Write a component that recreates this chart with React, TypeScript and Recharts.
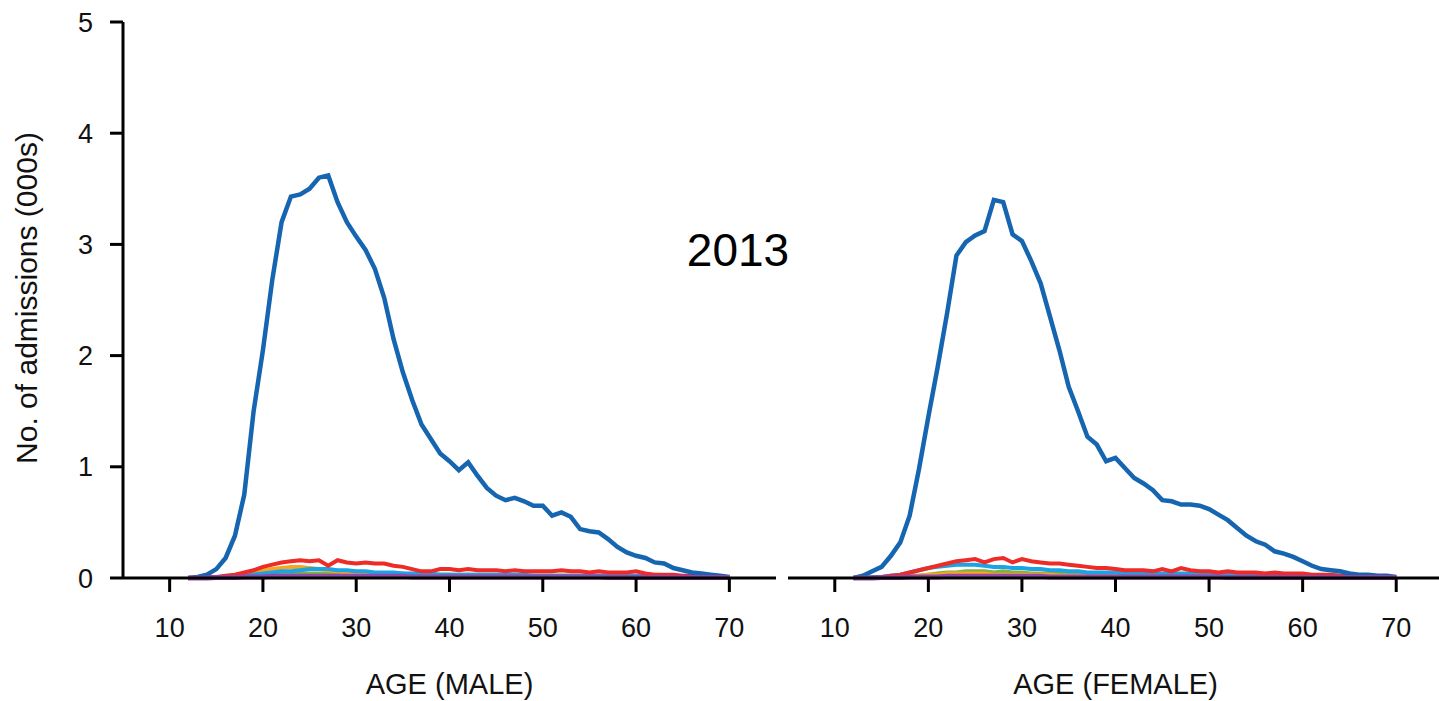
import { Line, LineChart, XAxis, YAxis } from "recharts"

const ages = [
  12, 13, 14, 15, 16, 17, 18, 19, 20, 21, 22, 23, 24, 25, 26, 27, 28, 29, 30, 31,
  32, 33, 34, 35, 36, 37, 38, 39, 40, 41, 42, 43, 44, 45, 46, 47, 48, 49, 50, 51,
  52, 53, 54, 55, 56, 57, 58, 59, 60, 61, 62, 63, 64, 65, 66, 67, 68, 69, 70,
]

const xTicks = [10, 20, 30, 40, 50, 60, 70]
const yTicks = [0, 1, 2, 3, 4, 5]

// male
const maleBlue = [
  0, 0.01, 0.03, 0.08, 0.18, 0.38, 0.75, 1.5, 2.05, 2.68, 3.2, 3.43, 3.45, 3.5, 3.6, 3.62, 3.38, 3.2, 3.07, 2.95,
  2.78, 2.52, 2.15, 1.85, 1.6, 1.38, 1.25, 1.12, 1.05, 0.97, 1.04, 0.92, 0.81, 0.74, 0.7, 0.72, 0.69, 0.65, 0.65, 0.56,
  0.59, 0.55, 0.44, 0.42, 0.41, 0.35, 0.28, 0.23, 0.2, 0.18, 0.14, 0.13, 0.09, 0.07, 0.05, 0.04, 0.03, 0.02, 0.01,
]
const maleRed = [
  0, 0, 0.01, 0.01, 0.02, 0.03, 0.05, 0.07, 0.1, 0.12, 0.14, 0.15, 0.16, 0.15, 0.16, 0.11, 0.16, 0.14, 0.13, 0.14,
  0.13, 0.13, 0.11, 0.1, 0.08, 0.06, 0.06, 0.08, 0.08, 0.07, 0.08, 0.07, 0.07, 0.07, 0.06, 0.07, 0.06, 0.06, 0.06, 0.06,
  0.07, 0.06, 0.06, 0.05, 0.06, 0.05, 0.05, 0.05, 0.06, 0.04, 0.03, 0.03, 0.03, 0.02, 0.02, 0.02, 0.01, 0.01, 0.01,
]
const maleOrange = [
  0, 0, 0, 0, 0.01, 0.02, 0.04, 0.05, 0.07, 0.08, 0.09, 0.1, 0.1, 0.09, 0.08, 0.07, 0.06, 0.05, 0.05, 0.04,
  0.04, 0.04, 0.04, 0.04, 0.03, 0.03, 0.03, 0.03, 0.03, 0.03, 0.03, 0.03, 0.03, 0.03, 0.02, 0.02, 0.02, 0.02, 0.02, 0.02,
  0.02, 0.02, 0.02, 0.02, 0.02, 0.02, 0.02, 0.01, 0.01, 0.01, 0.01, 0.01, 0.01, 0.01, 0.01, 0.01, 0.01, 0.01, 0.01,
]
const maleCyan = [
  0, 0, 0, 0, 0.01, 0.01, 0.02, 0.03, 0.04, 0.05, 0.06, 0.06, 0.07, 0.08, 0.08, 0.08, 0.07, 0.07, 0.06, 0.06,
  0.05, 0.05, 0.05, 0.04, 0.04, 0.04, 0.04, 0.03, 0.03, 0.03, 0.03, 0.03, 0.03, 0.03, 0.03, 0.03, 0.03, 0.02, 0.02, 0.02,
  0.02, 0.02, 0.02, 0.02, 0.02, 0.02, 0.02, 0.02, 0.02, 0.02, 0.01, 0.01, 0.01, 0.01, 0.01, 0.01, 0.01, 0.01, 0.01,
]
const maleGreen = [
  0, 0, 0, 0, 0, 0.01, 0.01, 0.02, 0.02, 0.03, 0.03, 0.03, 0.04, 0.04, 0.04, 0.04, 0.04, 0.03, 0.03, 0.03,
  0.03, 0.03, 0.03, 0.03, 0.03, 0.03, 0.02, 0.03, 0.03, 0.02, 0.03, 0.02, 0.02, 0.02, 0.02, 0.02, 0.02, 0.02, 0.02, 0.02,
  0.02, 0.02, 0.02, 0.02, 0.01, 0.01, 0.01, 0.01, 0.01, 0.01, 0.01, 0.01, 0.01, 0.01, 0.01, 0.01, 0.01, 0.01, 0.01,
]
const malePurple = [
  0, 0, 0, 0.005, 0.005, 0.005, 0.01, 0.01, 0.01, 0.015, 0.015, 0.015, 0.015, 0.015, 0.015, 0.015, 0.015, 0.015, 0.015, 0.015,
  0.015, 0.015, 0.015, 0.015, 0.01, 0.01, 0.01, 0.01, 0.01, 0.01, 0.01, 0.01, 0.01, 0.01, 0.01, 0.01, 0.01, 0.01, 0.01, 0.01,
  0.01, 0.01, 0.01, 0.01, 0.01, 0.005, 0.005, 0.005, 0.005, 0.005, 0.005, 0.005, 0.005, 0.005, 0.005, 0.005, 0.005, 0.005, 0.005,
]

// female
const femaleBlue = [
  0, 0.02, 0.06, 0.1, 0.2, 0.32, 0.56, 0.98, 1.45, 1.9, 2.38, 2.9, 3.02, 3.08, 3.12, 3.4, 3.38, 3.09, 3.03, 2.85,
  2.65, 2.35, 2.05, 1.72, 1.5, 1.27, 1.2, 1.05, 1.08, 0.99, 0.9, 0.85, 0.79, 0.7, 0.69, 0.66, 0.66, 0.65, 0.62, 0.57,
  0.52, 0.45, 0.38, 0.33, 0.3, 0.24, 0.22, 0.19, 0.15, 0.11, 0.08, 0.07, 0.06, 0.04, 0.03, 0.03, 0.02, 0.02, 0.01,
]
const femaleRed = [
  0, 0, 0, 0.01, 0.02, 0.03, 0.05, 0.07, 0.09, 0.11, 0.13, 0.15, 0.16, 0.17, 0.14, 0.17, 0.18, 0.14, 0.17, 0.15,
  0.14, 0.13, 0.13, 0.12, 0.11, 0.1, 0.09, 0.09, 0.08, 0.07, 0.07, 0.07, 0.06, 0.08, 0.06, 0.09, 0.07, 0.06, 0.06, 0.05,
  0.06, 0.05, 0.05, 0.05, 0.04, 0.05, 0.04, 0.04, 0.04, 0.03, 0.03, 0.03, 0.02, 0.02, 0.02, 0.02, 0.01, 0.01, 0.01,
]
const femaleOrange = [
  0, 0, 0, 0, 0.01, 0.01, 0.02, 0.02, 0.03, 0.03, 0.04, 0.04, 0.04, 0.04, 0.04, 0.03, 0.03, 0.03, 0.03, 0.03,
  0.03, 0.03, 0.02, 0.02, 0.02, 0.02, 0.02, 0.02, 0.02, 0.02, 0.02, 0.02, 0.02, 0.02, 0.02, 0.02, 0.02, 0.02, 0.01, 0.01,
  0.01, 0.01, 0.01, 0.01, 0.01, 0.01, 0.01, 0.01, 0.01, 0.01, 0.01, 0.01, 0.01, 0.01, 0.01, 0.01, 0.01, 0.01, 0.01,
]
const femaleCyan = [
  0, 0, 0.01, 0.01, 0.02, 0.03, 0.05, 0.07, 0.09, 0.1, 0.11, 0.12, 0.12, 0.12, 0.11, 0.1, 0.1, 0.09, 0.09, 0.08,
  0.08, 0.07, 0.07, 0.06, 0.06, 0.05, 0.05, 0.05, 0.05, 0.04, 0.04, 0.04, 0.04, 0.04, 0.04, 0.04, 0.04, 0.04, 0.04, 0.03,
  0.03, 0.03, 0.03, 0.03, 0.03, 0.03, 0.03, 0.03, 0.03, 0.02, 0.02, 0.02, 0.02, 0.02, 0.01, 0.01, 0.01, 0.01, 0.01,
]
const femaleGreen = [
  0, 0, 0, 0, 0.01, 0.01, 0.02, 0.02, 0.03, 0.04, 0.05, 0.05, 0.06, 0.06, 0.06, 0.05, 0.06, 0.05, 0.05, 0.04,
  0.04, 0.04, 0.04, 0.03, 0.03, 0.03, 0.03, 0.03, 0.03, 0.03, 0.02, 0.02, 0.02, 0.02, 0.02, 0.02, 0.02, 0.02, 0.02, 0.02,
  0.02, 0.02, 0.01, 0.01, 0.01, 0.01, 0.01, 0.01, 0.01, 0.01, 0.01, 0.01, 0.01, 0.01, 0.01, 0.01, 0.01, 0.01, 0.01,
]
const femalePurple = [
  0, 0, 0, 0.005, 0.005, 0.005, 0.01, 0.01, 0.01, 0.01, 0.015, 0.015, 0.015, 0.015, 0.015, 0.015, 0.015, 0.015, 0.015, 0.015,
  0.015, 0.01, 0.01, 0.01, 0.01, 0.01, 0.01, 0.01, 0.01, 0.01, 0.01, 0.01, 0.01, 0.01, 0.01, 0.01, 0.01, 0.01, 0.01, 0.01,
  0.005, 0.005, 0.005, 0.005, 0.005, 0.005, 0.005, 0.005, 0.005, 0.005, 0.005, 0.005, 0.005, 0.005, 0.005, 0.005, 0.005, 0.005, 0.005,
]

const series = [
  { key: "green", color: "#7cb342", width: 4 },
  { key: "orange", color: "#f5a623", width: 4 },
  { key: "cyan", color: "#1ba3e3", width: 4 },
  { key: "red", color: "#ee2b27", width: 4 },
  { key: "blue", color: "#1565b0", width: 4.5 },
  { key: "purple", color: "#9547a8", width: 5 },
]

const build = (blue: number[], red: number[], orange: number[], cyan: number[], green: number[], purple: number[]) =>
  ages.map((age, i) => ({
    age,
    blue: blue[i],
    red: red[i],
    orange: orange[i],
    cyan: cyan[i],
    green: green[i],
    purple: purple[i],
  }))

const maleData = build(maleBlue, maleRed, maleOrange, maleCyan, maleGreen, malePurple)
const femaleData = build(femaleBlue, femaleRed, femaleOrange, femaleCyan, femaleGreen, femalePurple)

const font = "'Liberation Sans', Arial, sans-serif"
const ink = "#111"

function Panel({ data, title, showY, width }: { data: any[]; title: string; showY: boolean; width: number }) {
  return (
    <LineChart width={width} height={701} data={data} margin={{ top: 22, right: showY ? 14 : 0, left: 0, bottom: 0 }}>
      <XAxis
        dataKey="age"
        type="number"
        domain={[5, 75]}
        ticks={xTicks}
        height={123}
        stroke="#000"
        strokeWidth={3}
        tickSize={14}
        tickMargin={26}
        tick={{ fill: ink, fontSize: 27, fontFamily: font }}
        label={{ value: title, position: "insideBottom", offset: 7, fill: ink, fontSize: 29, fontFamily: font }}
      />
      <YAxis
        hide={!showY}
        type="number"
        domain={[0, 5]}
        ticks={yTicks}
        width={123}
        stroke="#000"
        strokeWidth={3}
        tickSize={13}
        tickMargin={17}
        tick={{ fill: ink, fontSize: 27, fontFamily: font }}
      />
      {series.map((s) => (
        <Line
          key={s.key}
          dataKey={s.key}
          type="linear"
          stroke={s.color}
          strokeWidth={s.width}
          dot={false}
          isAnimationActive={false}
        />
      ))}
    </LineChart>
  )
}

export default function App() {
  return (
    <div
      style={{
        position: "absolute",
        left: 0,
        top: 0,
        width: 1439,
        height: 701,
        overflow: "hidden",
        background: "#fff",
        fontFamily: font,
      }}
    >
      <div style={{ position: "absolute", left: 0, top: 0 }}>
        <Panel data={maleData} title="AGE (MALE)" showY={true} width={790} />
      </div>
      <div style={{ position: "absolute", left: 788, top: 0 }}>
        <Panel data={femaleData} title="AGE (FEMALE)" showY={false} width={655} />
      </div>
      <svg width={1439} height={701} style={{ position: "absolute", left: 0, top: 0, pointerEvents: "none" }}>
        <text x={738} y={266} textAnchor="middle" fontSize={46} fontFamily={font} fill="#000">
          2013
        </text>
        <text
          x={0}
          y={0}
          transform="translate(37, 298) rotate(-90)"
          textAnchor="middle"
          fontSize={30}
          fontFamily={font}
          fill={ink}
        >
          No. of admissions (000s)
        </text>
      </svg>
    </div>
  )
}
